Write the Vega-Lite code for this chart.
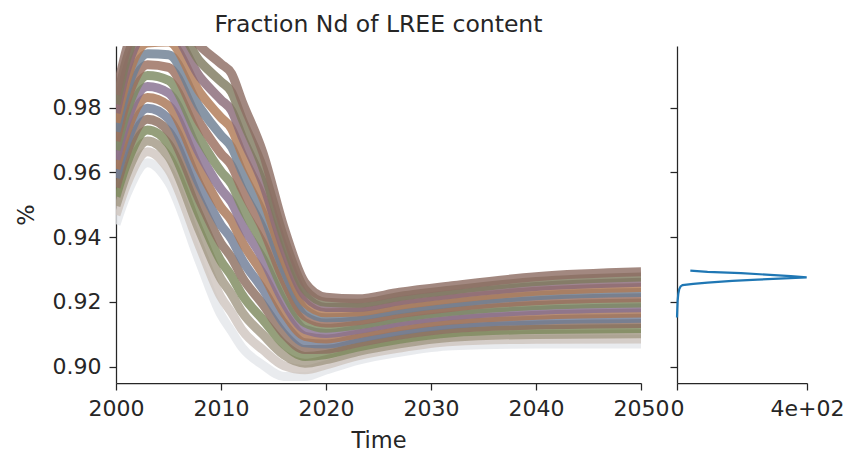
{
"$schema": "https://vega.github.io/schema/vega-lite/v6.json",
"padding": {"left": 15, "top": 12, "right": 5, "bottom": 5},
"datasets": {
"runs": [
{"run":0,"t":2000,"v":0.9440},{"run":0,"t":2001,"v":0.9530},{"run":0,"t":2003,"v":0.9630},{"run":0,"t":2005,"v":0.9570},{"run":0,"t":2008,"v":0.9320},{"run":0,"t":2010,"v":0.9160},{"run":0,"t":2011,"v":0.9110},{"run":0,"t":2012,"v":0.9060},{"run":0,"t":2014,"v":0.9005},{"run":0,"t":2016,"v":0.8970},{"run":0,"t":2018,"v":0.8970},{"run":0,"t":2020,"v":0.8990},{"run":0,"t":2023,"v":0.9020},{"run":0,"t":2027,"v":0.9045},{"run":0,"t":2032,"v":0.9065},{"run":0,"t":2040,"v":0.9070},{"run":0,"t":2050,"v":0.9070},
{"run":1,"t":2000,"v":0.9469},{"run":1,"t":2001,"v":0.9562},{"run":1,"t":2003,"v":0.9664},{"run":1,"t":2005,"v":0.9609},{"run":1,"t":2008,"v":0.9368},{"run":1,"t":2010,"v":0.9215},{"run":1,"t":2011,"v":0.9167},{"run":1,"t":2012,"v":0.9114},{"run":1,"t":2014,"v":0.9052},{"run":1,"t":2016,"v":0.9003},{"run":1,"t":2018,"v":0.8991},{"run":1,"t":2020,"v":0.9006},{"run":1,"t":2023,"v":0.9034},{"run":1,"t":2027,"v":0.9058},{"run":1,"t":2032,"v":0.9078},{"run":1,"t":2040,"v":0.9085},{"run":1,"t":2050,"v":0.9086},
{"run":2,"t":2000,"v":0.9497},{"run":2,"t":2001,"v":0.9594},{"run":2,"t":2003,"v":0.9697},{"run":2,"t":2005,"v":0.9649},{"run":2,"t":2008,"v":0.9416},{"run":2,"t":2010,"v":0.9271},{"run":2,"t":2011,"v":0.9224},{"run":2,"t":2012,"v":0.9169},{"run":2,"t":2014,"v":0.9099},{"run":2,"t":2016,"v":0.9036},{"run":2,"t":2018,"v":0.9011},{"run":2,"t":2020,"v":0.9022},{"run":2,"t":2023,"v":0.9047},{"run":2,"t":2027,"v":0.9071},{"run":2,"t":2032,"v":0.9091},{"run":2,"t":2040,"v":0.9100},{"run":2,"t":2050,"v":0.9102},
{"run":3,"t":2000,"v":0.9526},{"run":3,"t":2001,"v":0.9626},{"run":3,"t":2003,"v":0.9731},{"run":3,"t":2005,"v":0.9688},{"run":3,"t":2008,"v":0.9464},{"run":3,"t":2010,"v":0.9326},{"run":3,"t":2011,"v":0.9280},{"run":3,"t":2012,"v":0.9223},{"run":3,"t":2014,"v":0.9145},{"run":3,"t":2016,"v":0.9069},{"run":3,"t":2018,"v":0.9032},{"run":3,"t":2020,"v":0.9038},{"run":3,"t":2023,"v":0.9061},{"run":3,"t":2027,"v":0.9085},{"run":3,"t":2032,"v":0.9105},{"run":3,"t":2040,"v":0.9115},{"run":3,"t":2050,"v":0.9118},
{"run":4,"t":2000,"v":0.9554},{"run":4,"t":2001,"v":0.9659},{"run":4,"t":2003,"v":0.9764},{"run":4,"t":2005,"v":0.9727},{"run":4,"t":2008,"v":0.9511},{"run":4,"t":2010,"v":0.9381},{"run":4,"t":2011,"v":0.9337},{"run":4,"t":2012,"v":0.9277},{"run":4,"t":2014,"v":0.9192},{"run":4,"t":2016,"v":0.9101},{"run":4,"t":2018,"v":0.9053},{"run":4,"t":2020,"v":0.9054},{"run":4,"t":2023,"v":0.9074},{"run":4,"t":2027,"v":0.9098},{"run":4,"t":2032,"v":0.9118},{"run":4,"t":2040,"v":0.9129},{"run":4,"t":2050,"v":0.9134},
{"run":5,"t":2000,"v":0.9583},{"run":5,"t":2001,"v":0.9691},{"run":5,"t":2003,"v":0.9798},{"run":5,"t":2005,"v":0.9766},{"run":5,"t":2008,"v":0.9559},{"run":5,"t":2010,"v":0.9437},{"run":5,"t":2011,"v":0.9394},{"run":5,"t":2012,"v":0.9331},{"run":5,"t":2014,"v":0.9239},{"run":5,"t":2016,"v":0.9134},{"run":5,"t":2018,"v":0.9074},{"run":5,"t":2020,"v":0.9070},{"run":5,"t":2023,"v":0.9088},{"run":5,"t":2027,"v":0.9111},{"run":5,"t":2032,"v":0.9131},{"run":5,"t":2040,"v":0.9144},{"run":5,"t":2050,"v":0.9150},
{"run":6,"t":2000,"v":0.9611},{"run":6,"t":2001,"v":0.9723},{"run":6,"t":2003,"v":0.9831},{"run":6,"t":2005,"v":0.9806},{"run":6,"t":2008,"v":0.9607},{"run":6,"t":2010,"v":0.9492},{"run":6,"t":2011,"v":0.9451},{"run":6,"t":2012,"v":0.9386},{"run":6,"t":2014,"v":0.9286},{"run":6,"t":2016,"v":0.9167},{"run":6,"t":2018,"v":0.9094},{"run":6,"t":2020,"v":0.9086},{"run":6,"t":2023,"v":0.9101},{"run":6,"t":2027,"v":0.9124},{"run":6,"t":2032,"v":0.9144},{"run":6,"t":2040,"v":0.9159},{"run":6,"t":2050,"v":0.9166},
{"run":7,"t":2000,"v":0.9640},{"run":7,"t":2001,"v":0.9755},{"run":7,"t":2003,"v":0.9865},{"run":7,"t":2005,"v":0.9845},{"run":7,"t":2008,"v":0.9655},{"run":7,"t":2010,"v":0.9548},{"run":7,"t":2011,"v":0.9508},{"run":7,"t":2012,"v":0.9440},{"run":7,"t":2014,"v":0.9333},{"run":7,"t":2016,"v":0.9200},{"run":7,"t":2018,"v":0.9115},{"run":7,"t":2020,"v":0.9103},{"run":7,"t":2023,"v":0.9115},{"run":7,"t":2027,"v":0.9138},{"run":7,"t":2032,"v":0.9158},{"run":7,"t":2040,"v":0.9174},{"run":7,"t":2050,"v":0.9182},
{"run":8,"t":2000,"v":0.9669},{"run":8,"t":2001,"v":0.9787},{"run":8,"t":2003,"v":0.9899},{"run":8,"t":2005,"v":0.9884},{"run":8,"t":2008,"v":0.9703},{"run":8,"t":2010,"v":0.9603},{"run":8,"t":2011,"v":0.9564},{"run":8,"t":2012,"v":0.9494},{"run":8,"t":2014,"v":0.9379},{"run":8,"t":2016,"v":0.9233},{"run":8,"t":2018,"v":0.9136},{"run":8,"t":2020,"v":0.9119},{"run":8,"t":2023,"v":0.9129},{"run":8,"t":2027,"v":0.9151},{"run":8,"t":2032,"v":0.9171},{"run":8,"t":2040,"v":0.9189},{"run":8,"t":2050,"v":0.9197},
{"run":9,"t":2000,"v":0.9697},{"run":9,"t":2001,"v":0.9819},{"run":9,"t":2003,"v":0.9932},{"run":9,"t":2005,"v":0.9924},{"run":9,"t":2008,"v":0.9751},{"run":9,"t":2010,"v":0.9658},{"run":9,"t":2011,"v":0.9621},{"run":9,"t":2012,"v":0.9549},{"run":9,"t":2014,"v":0.9426},{"run":9,"t":2016,"v":0.9266},{"run":9,"t":2018,"v":0.9156},{"run":9,"t":2020,"v":0.9135},{"run":9,"t":2023,"v":0.9142},{"run":9,"t":2027,"v":0.9164},{"run":9,"t":2032,"v":0.9184},{"run":9,"t":2040,"v":0.9204},{"run":9,"t":2050,"v":0.9213},
{"run":10,"t":2000,"v":0.9726},{"run":10,"t":2001,"v":0.9851},{"run":10,"t":2003,"v":0.9966},{"run":10,"t":2005,"v":0.9963},{"run":10,"t":2008,"v":0.9799},{"run":10,"t":2010,"v":0.9714},{"run":10,"t":2011,"v":0.9678},{"run":10,"t":2012,"v":0.9603},{"run":10,"t":2014,"v":0.9473},{"run":10,"t":2016,"v":0.9299},{"run":10,"t":2018,"v":0.9177},{"run":10,"t":2020,"v":0.9151},{"run":10,"t":2023,"v":0.9156},{"run":10,"t":2027,"v":0.9177},{"run":10,"t":2032,"v":0.9197},{"run":10,"t":2040,"v":0.9219},{"run":10,"t":2050,"v":0.9229},
{"run":11,"t":2000,"v":0.9754},{"run":11,"t":2001,"v":0.9884},{"run":11,"t":2003,"v":0.9999},{"run":11,"t":2005,"v":1.0002},{"run":11,"t":2008,"v":0.9846},{"run":11,"t":2010,"v":0.9769},{"run":11,"t":2011,"v":0.9735},{"run":11,"t":2012,"v":0.9657},{"run":11,"t":2014,"v":0.9520},{"run":11,"t":2016,"v":0.9331},{"run":11,"t":2018,"v":0.9198},{"run":11,"t":2020,"v":0.9167},{"run":11,"t":2023,"v":0.9169},{"run":11,"t":2027,"v":0.9190},{"run":11,"t":2032,"v":0.9210},{"run":11,"t":2040,"v":0.9233},{"run":11,"t":2050,"v":0.9245},
{"run":12,"t":2000,"v":0.9783},{"run":12,"t":2001,"v":0.9916},{"run":12,"t":2003,"v":1.0033},{"run":12,"t":2005,"v":1.0041},{"run":12,"t":2008,"v":0.9894},{"run":12,"t":2010,"v":0.9824},{"run":12,"t":2011,"v":0.9791},{"run":12,"t":2012,"v":0.9711},{"run":12,"t":2014,"v":0.9566},{"run":12,"t":2016,"v":0.9364},{"run":12,"t":2018,"v":0.9219},{"run":12,"t":2020,"v":0.9183},{"run":12,"t":2023,"v":0.9183},{"run":12,"t":2027,"v":0.9204},{"run":12,"t":2032,"v":0.9224},{"run":12,"t":2040,"v":0.9248},{"run":12,"t":2050,"v":0.9261},
{"run":13,"t":2000,"v":0.9811},{"run":13,"t":2001,"v":0.9948},{"run":13,"t":2003,"v":1.0066},{"run":13,"t":2005,"v":1.0081},{"run":13,"t":2008,"v":0.9942},{"run":13,"t":2010,"v":0.9880},{"run":13,"t":2011,"v":0.9848},{"run":13,"t":2012,"v":0.9766},{"run":13,"t":2014,"v":0.9613},{"run":13,"t":2016,"v":0.9397},{"run":13,"t":2018,"v":0.9239},{"run":13,"t":2020,"v":0.9199},{"run":13,"t":2023,"v":0.9196},{"run":13,"t":2027,"v":0.9217},{"run":13,"t":2032,"v":0.9237},{"run":13,"t":2040,"v":0.9263},{"run":13,"t":2050,"v":0.9277},
{"run":14,"t":2000,"v":0.9840},{"run":14,"t":2001,"v":0.9980},{"run":14,"t":2003,"v":1.0100},{"run":14,"t":2005,"v":1.0120},{"run":14,"t":2008,"v":0.9990},{"run":14,"t":2010,"v":0.9935},{"run":14,"t":2011,"v":0.9905},{"run":14,"t":2012,"v":0.9820},{"run":14,"t":2014,"v":0.9660},{"run":14,"t":2016,"v":0.9430},{"run":14,"t":2018,"v":0.9260},{"run":14,"t":2020,"v":0.9215},{"run":14,"t":2023,"v":0.9210},{"run":14,"t":2027,"v":0.9230},{"run":14,"t":2032,"v":0.9250},{"run":14,"t":2040,"v":0.9278},{"run":14,"t":2050,"v":0.9293}
],
"dens": [
{"d":0,"v":0.9152},{"d":1,"v":0.9180},{"d":2,"v":0.9204},{"d":4,"v":0.9225},{"d":7,"v":0.9240},{"d":11,"v":0.9248},{"d":17,"v":0.9252},{"d":50,"v":0.9256},{"d":94,"v":0.9260},{"d":170,"v":0.9265},{"d":248,"v":0.9269},{"d":330,"v":0.9273},{"d":399,"v":0.9276},{"d":350,"v":0.9280},{"d":299,"v":0.9283},{"d":197,"v":0.9289},{"d":94,"v":0.9293},{"d":41,"v":0.9297}
]
},
"hconcat": [
{
"title": {"text": "Fraction Nd of LREE content", "anchor": "middle", "offset": 10},
"width": 525, "height": 337,
"data": {"name": "runs"},
"mark": {"type": "line", "interpolate": "monotone", "clip": true, "strokeWidth": 9, "opacity": 0.82},
"encoding": {
"x": {"field": "t", "type": "quantitative", "scale": {"domain": [2000, 2050], "nice": false, "zero": false}, "axis": {"values": [2000, 2010, 2020, 2030, 2040, 2050], "format": "d", "title": "Time"}},
"y": {"field": "v", "type": "quantitative", "scale": {"domain": [0.895, 0.999], "nice": false, "zero": false}, "axis": {"values": [0.90, 0.92, 0.94, 0.96, 0.98], "format": ".2f", "title": "%", "titlePadding": 14}},
"color": {"field": "run", "type": "nominal", "legend": null, "scale": {"range": ["#e4e6ea", "#cfc6c0", "#a39a86", "#7e8a5e", "#8c6f60", "#6f7c96", "#a87555", "#877090", "#7d8a62", "#9a6e5e", "#6e7f93", "#b07a55", "#8a6a78", "#7f7a5f", "#8e6e64"]}}
}
},
{
"width": 130, "height": 337,
"data": {"name": "dens"},
"mark": {"type": "line", "color": "#1f77b4", "strokeWidth": 2.2},
"encoding": {
"x": {"field": "d", "type": "quantitative", "scale": {"domain": [0, 400], "nice": false}, "axis": {"values": [0, 400], "labelExpr": "datum.value == 0 ? '0' : '4e+02'", "title": null}},
"y": {"field": "v", "type": "quantitative", "scale": {"domain": [0.895, 0.999], "nice": false, "zero": false}, "axis": {"values": [0.90, 0.92, 0.94, 0.96, 0.98], "labels": false, "title": null}},
"order": {"field": "v", "type": "quantitative"}
}
}
],
"spacing": 0,
"config": {
"view": {"stroke": null},
"font": "DejaVu Sans",
"axis": {"domainColor": "#262626", "tickColor": "#262626", "labelColor": "#262626", "titleColor": "#262626", "labelFont": "DejaVu Sans", "titleFont": "DejaVu Sans", "labelFontSize": 22, "titleFontSize": 22.5, "titleFontWeight": "normal", "tickSize": 7, "tickWidth": 1.25, "domainWidth": 1.25, "grid": false, "labelFlush": false, "labelOverlap": false, "labelPadding": 8, "titlePadding": 10},
"title": {"font": "DejaVu Sans", "fontSize": 23.5, "fontWeight": "normal", "color": "#262626"}
}
}
